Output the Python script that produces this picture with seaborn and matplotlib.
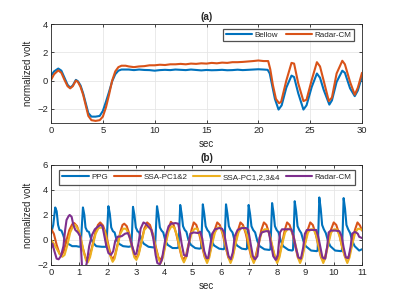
import numpy as np
import pandas as pd
import seaborn as sns
import matplotlib
matplotlib.use("Agg")
import matplotlib.pyplot as plt

# ---------------- data: panel (a) ----------------
bellow_t = [0, 0.3, 0.7, 1.0, 1.3, 1.6, 1.85, 2.1, 2.4, 2.6, 2.85, 3.1, 3.35, 3.6, 3.9, 4.3, 4.7, 5.0,
            5.3, 5.6, 5.9, 6.2, 6.5, 6.8, 7.5, 8, 8.5, 9, 9.5, 10, 10.5, 11, 11.5, 12, 12.5, 13, 13.5,
            14, 14.5, 15, 15.5, 16, 16.5, 17, 17.5, 18, 18.5, 19, 19.5, 20, 20.5, 20.9, 21.1, 21.35,
            21.6, 21.95, 22.25, 22.7, 23.2, 23.45, 23.85, 24.35, 24.65, 25.15, 25.65, 25.95, 26.3,
            26.85, 27.1, 27.55, 28.1, 28.35, 28.85, 29.3, 29.6, 30]
bellow_v = [0.35, 0.65, 0.85, 0.7, 0.2, -0.3, -0.5, -0.35, 0.05, -0.05, -0.35, -0.9, -1.6, -2.3, -2.55,
            -2.55, -2.5, -2.15, -1.5, -0.8, -0.05, 0.45, 0.7, 0.78, 0.78, 0.74, 0.78, 0.75, 0.74, 0.7,
            0.74, 0.76, 0.74, 0.78, 0.76, 0.74, 0.78, 0.75, 0.72, 0.75, 0.73, 0.74, 0.76, 0.73, 0.74,
            0.77, 0.74, 0.76, 0.78, 0.8, 0.78, 0.76, 0.5, -0.4, -1.3, -2.05, -1.75, -0.5, 0.35, 0.25,
            -0.9, -2.05, -1.75, -0.45, 0.5, 0.2, -0.65, -1.7, -1.4, -0.1, 0.7, 0.55, -0.55, -1.1,
            -0.7, 0.3]

radar_a_t = [0, 0.3, 0.7, 1.0, 1.3, 1.6, 1.85, 2.1, 2.4, 2.6, 2.85, 3.1, 3.35, 3.6, 3.9, 4.3, 4.7, 5.0,
             5.3, 5.6, 5.9, 6.2, 6.5, 6.8, 7.2, 7.5, 8, 8.5, 9, 9.5, 10, 10.5, 11, 11.5, 12, 12.5, 13,
             13.5, 14, 14.5, 15, 15.5, 16, 16.5, 17, 17.5, 18, 18.5, 19, 19.5, 20, 20.5, 20.95, 21.15,
             21.4, 21.7, 22.0, 22.2, 22.7, 23.2, 23.45, 23.85, 24.35, 24.65, 25.15, 25.65, 25.95, 26.3,
             26.8, 27.1, 27.55, 28.1, 28.35, 28.85, 29.3, 29.6, 30]
radar_a_v = [0.05, 0.45, 0.72, 0.55, 0.05, -0.4, -0.55, -0.4, 0.0, -0.1, -0.45, -1.0, -1.75, -2.5, -2.8,
             -2.85, -2.8, -2.55, -1.9, -1.0, 0.0, 0.65, 0.95, 1.05, 1.05, 1.0, 0.95, 1.0, 1.02, 1.08,
             1.08, 1.12, 1.1, 1.15, 1.15, 1.18, 1.15, 1.2, 1.18, 1.22, 1.2, 1.25, 1.22, 1.27, 1.25, 1.3,
             1.3, 1.32, 1.35, 1.38, 1.42, 1.38, 1.38, 0.8, -0.3, -1.3, -1.6, -1.5, 0.0, 1.25, 1.2, -0.2,
             -1.45, -1.35, 0.05, 1.3, 1.0, 0.0, -1.45, -1.2, 0.5, 1.4, 1.15, -0.1, -1.0, -0.5, 0.55]

# ---------------- data: panel (b) ----------------
ppg_t = [0, 0.08, 0.15, 0.2, 0.25, 0.3, 0.37, 0.43, 0.5, 0.6, 0.75, 0.9, 1.0, 1.05, 1.09, 1.13, 1.18,
         1.22, 1.28, 1.34, 1.4, 1.48, 1.6, 1.8, 1.95, 1.99, 2.03, 2.08, 2.13, 2.19, 2.25, 2.32, 2.4,
         2.55, 2.75, 2.84, 2.87, 2.9, 2.95, 3.0, 3.06, 3.12, 3.2, 3.28, 3.45, 3.62, 3.68, 3.71, 3.75,
         3.8, 3.85, 3.91, 3.97, 4.05, 4.13, 4.3, 4.45, 4.51, 4.54, 4.57, 4.62, 4.67, 4.73, 4.79, 4.86,
         4.95, 5.1, 5.25, 5.31, 5.34, 5.37, 5.42, 5.47, 5.53, 5.6, 5.68, 5.77, 5.95, 6.1, 6.13, 6.16,
         6.19, 6.24, 6.29, 6.35, 6.42, 6.5, 6.58, 6.75, 6.9, 6.93, 6.96, 6.99, 7.04, 7.09, 7.15, 7.22,
         7.3, 7.38, 7.55, 7.72, 7.76, 7.79, 7.82, 7.87, 7.92, 7.98, 8.05, 8.13, 8.21, 8.4, 8.53, 8.56,
         8.59, 8.62, 8.67, 8.72, 8.78, 8.85, 8.93, 9.01, 9.2, 9.4, 9.43, 9.46, 9.49, 9.54, 9.59, 9.65,
         9.72, 9.8, 9.88, 10.05, 10.26, 10.29, 10.32, 10.35, 10.4, 10.45, 10.51, 10.58, 10.66, 10.74,
         10.9, 11.0]
ppg_v = [0.5, 1.2, 2.6, 2.3, 1.2, 0.8, 0.75, 0.4, -0.1, -0.3, -0.5, -0.5, -0.55, -0.5, 1.0, 2.6, 2.0,
         1.0, 0.7, 0.65, 0.2, -0.2, -0.5, -0.55, -0.55, 0.9, 2.7, 2.1, 1.0, 0.7, 0.6, 0.0, -0.3, -0.5,
         -0.55, -0.5, 0.8, 2.65, 2.0, 1.0, 0.7, 0.6, 0.0, -0.3, -0.55, -0.6, -0.55, 0.8, 2.7, 2.0, 1.0,
         0.75, 0.6, -0.1, -0.4, -0.65, -0.65, -0.6, 1.0, 2.8, 2.1, 1.1, 0.8, 0.65, 0.0, -0.4, -0.65,
         -0.7, -0.65, 1.0, 2.85, 2.1, 1.1, 0.8, 0.6, -0.1, -0.45, -0.7, -0.75, -0.7, 1.0, 2.85, 2.1,
         1.1, 0.8, 0.6, -0.1, -0.45, -0.7, -0.75, -0.7, 1.0, 2.8, 2.1, 1.1, 0.8, 0.6, -0.1, -0.5,
         -0.75, -0.8, -0.75, 1.0, 2.95, 2.2, 1.1, 0.8, 0.6, -0.1, -0.5, -0.8, -0.85, -0.8, 1.0, 3.1,
         2.3, 1.1, 0.8, 0.55, -0.1, -0.5, -0.85, -0.9, -0.85, 1.0, 3.4, 2.5, 1.2, 0.85, 0.55, -0.1,
         -0.5, -0.85, -0.9, -0.85, 1.0, 3.35, 2.5, 1.2, 0.85, 0.55, -0.1, -0.5, -0.85, -0.75]

ssa12_t = [0, 0.1, 0.2, 0.3, 0.37, 0.45, 0.55, 0.65, 0.75, 0.82, 0.92, 1.02, 1.12, 1.22, 1.29, 1.37,
           1.47, 1.57, 1.66, 1.74, 1.84, 1.94, 2.04, 2.12, 2.18, 2.26, 2.36, 2.46, 2.53, 2.59, 2.68,
           2.78, 2.88, 2.96, 3.02, 3.1, 3.2, 3.3, 3.4, 3.5, 3.6, 3.7, 3.8, 3.87, 3.95, 4.05, 4.15, 4.24,
           4.33, 4.43, 4.53, 4.62, 4.69, 4.77, 4.87, 4.97, 5.05, 5.14, 5.24, 5.34, 5.44, 5.51, 5.59,
           5.69, 5.79, 5.88, 5.97, 6.07, 6.17, 6.27, 6.34, 6.42, 6.52, 6.62, 6.7, 6.79, 6.89, 6.99,
           7.09, 7.16, 7.24, 7.34, 7.44, 7.53, 7.62, 7.72, 7.82, 7.92, 7.99, 8.07, 8.17, 8.27, 8.35,
           8.44, 8.54, 8.64, 8.73, 8.8, 8.88, 8.98, 9.08, 9.17, 9.26, 9.36, 9.46, 9.55, 9.62, 9.7, 9.8,
           9.9, 10.0, 10.09, 10.19, 10.29, 10.4, 10.47, 10.55, 10.65, 10.75, 10.84, 10.93, 11.0]
ssa12_v = [0.9, 0.5, -0.4, -1.1, -1.25, -0.9, 0.0, 0.8, 1.25, 1.35, 1.1, 0.4, -0.6, -1.4, -1.6, -1.3,
           -0.4, 0.6, 1.2, 1.4, 1.15, 0.5, -0.5, -1.3, -1.55, -1.25, -0.3, 0.7, 1.2, 1.3, 1.1, 0.4,
           -0.6, -1.3, -1.45, -1.1, -0.1, 0.9, 1.4, 1.2, 0.5, -0.5, -1.4, -1.6, -1.3, -0.3, 0.8, 1.45,
           1.25, 0.5, -0.5, -1.35, -1.55, -1.3, -0.3, 0.8, 1.4, 1.2, 0.5, -0.5, -1.4, -1.6, -1.3, -0.3,
           0.8, 1.4, 1.2, 0.5, -0.5, -1.4, -1.6, -1.3, -0.3, 0.8, 1.4, 1.2, 0.5, -0.5, -1.4, -1.6, -1.3,
           -0.3, 0.8, 1.4, 1.2, 0.5, -0.5, -1.4, -1.6, -1.3, -0.3, 0.8, 1.4, 1.2, 0.5, -0.5, -1.4, -1.6,
           -1.3, -0.3, 0.8, 1.4, 1.2, 0.5, -0.5, -1.4, -1.55, -1.3, -0.3, 0.8, 1.4, 1.2, 0.5, -0.5,
           -1.35, -1.5, -1.25, -0.3, 0.8, 1.4, 1.15, 0.75]

ssa1234_t = [0, 0.1, 0.2, 0.3, 0.4, 0.48, 0.58, 0.68, 0.78, 0.86, 0.95, 1.05, 1.15, 1.24, 1.3, 1.38,
             1.48, 1.58, 1.68, 1.8, 1.9, 2.0, 2.1, 2.18, 2.25, 2.35, 2.45, 2.55, 2.65, 2.75, 2.85, 2.95,
             3.02, 3.1, 3.2, 3.3, 3.42, 3.52, 3.62, 3.72, 3.82, 3.88, 3.96, 4.06, 4.16, 4.26, 4.36, 4.46,
             4.56, 4.64, 4.7, 4.78, 4.88, 4.98, 5.08, 5.18, 5.28, 5.38, 5.46, 5.52, 5.6, 5.7, 5.8, 5.9,
             6.0, 6.1, 6.2, 6.29, 6.35, 6.43, 6.53, 6.63, 6.73, 6.83, 6.93, 7.03, 7.11, 7.17, 7.25, 7.35,
             7.45, 7.55, 7.65, 7.75, 7.85, 7.94, 8.0, 8.08, 8.18, 8.28, 8.38, 8.48, 8.58, 8.68, 8.75,
             8.81, 8.89, 8.99, 9.09, 9.19, 9.29, 9.39, 9.49, 9.57, 9.63, 9.71, 9.81, 9.91, 10.01, 10.11,
             10.21, 10.31, 10.42, 10.48, 10.56, 10.66, 10.76, 10.86, 10.96, 11.0]
ssa1234_v = [0.0, -0.3, -0.7, -1.1, -1.35, -1.2, -0.4, 0.6, 1.1, 1.2, 0.9, 0.2, -0.9, -1.65, -1.8, -1.4,
             -0.4, 0.5, 0.95, 1.0, 0.7, -0.3, -1.3, -1.75, -1.5, -0.5, 0.5, 0.9, 0.9, 0.5, -0.5, -1.4,
             -1.6, -1.2, -0.2, 0.8, 1.1, 0.9, 0.2, -0.8, -1.6, -1.85, -1.4, -0.3, 0.7, 1.1, 1.0, 0.3, -0.7,
             -1.5, -1.8, -1.4, -0.3, 0.6, 0.9, 0.9, 0.3, -0.7, -1.5, -1.85, -1.4, -0.3, 0.6, 1.0, 1.0, 0.4,
             -0.7, -1.5, -1.85, -1.4, -0.3, 0.6, 1.0, 1.0, 0.4, -0.7, -1.5, -1.85, -1.4, -0.3, 0.6, 0.85,
             0.85, 0.3, -0.7, -1.5, -1.85, -1.4, -0.3, 0.6, 0.9, 0.85, 0.3, -0.7, -1.5, -1.85, -1.4,
             -0.3, 0.6, 0.85, 0.85, 0.3, -0.7, -1.5, -1.85, -1.4, -0.3, 0.6, 0.85, 0.85, 0.3, -0.7, -1.5,
             -1.85, -1.4, -0.3, 0.6, 0.9, 0.85, 0.8]

radar_b_t = [0, 0.05, 0.12, 0.2, 0.27, 0.35, 0.44, 0.5, 0.55, 0.62, 0.66, 0.73, 0.79, 0.86, 0.95, 1.03,
             1.07, 1.1, 1.2, 1.26, 1.35, 1.45, 1.55, 1.65, 1.75, 1.82, 1.88, 1.95, 2.03, 2.12, 2.2, 2.27,
             2.35, 2.5, 2.62, 2.72, 2.8, 2.87, 2.96, 3.02, 3.1, 3.17, 3.27, 3.35, 3.47, 3.55, 3.62, 3.7,
             3.76, 3.85, 3.92, 3.98, 4.07, 4.16, 4.25, 4.4, 4.5, 4.56, 4.62, 4.7, 4.8, 4.87, 4.93, 5.05,
             5.2, 5.28, 5.35, 5.42, 5.5, 5.56, 5.63, 5.7, 5.8, 5.95, 6.05, 6.12, 6.2, 6.28, 6.36, 6.43,
             6.5, 6.6, 6.75, 6.9, 6.98, 7.06, 7.14, 7.22, 7.3, 7.38, 7.45, 7.6, 7.7, 7.77, 7.86, 7.95,
             8.02, 8.1, 8.17, 8.35, 8.5, 8.58, 8.66, 8.75, 8.84, 8.92, 8.98, 9.05, 9.2, 9.38, 9.45, 9.52,
             9.6, 9.7, 9.77, 9.82, 9.9, 10.05, 10.2, 10.28, 10.35, 10.43, 10.52, 10.6, 10.65, 10.75,
             10.85, 10.9, 11.0]
radar_b_v = [-0.65, -0.3, -0.9, -1.5, -1.55, -1.3, -0.5, 0.8, 1.6, 1.9, 2.0, 1.85, 1.2, 0.8, 0.6, 0.3,
             -1.0, -2.3, -2.4, -1.9, -0.5, 0.4, 0.85, 1.05, 1.2, 1.1, 0.4, -0.4, -1.05, -1.2, -0.9, -0.1,
             0.25, 0.3, 0.5, 0.55, 0.1, -0.5, -1.15, -1.1, -0.2, 0.9, 1.4, 1.3, 1.0, 0.8, 0.1, -1.2,
             -1.85, -1.95, -1.6, -0.8, 0.4, 1.1, 1.3, 1.35, 1.3, 0.6, -0.3, -1.2, -1.3, -0.4, 0.5, 0.6,
             0.55, 0.65, 0.1, -0.9, -1.45, -1.45, -0.5, 0.5, 0.85, 0.95, 0.9, 0.6, -0.4, -1.3, -1.55,
             -1.0, 0.3, 0.8, 0.95, 0.95, 0.8, -0.3, -1.3, -1.55, -1.3, 0.2, 0.6, 0.7, 0.7, -0.2, -1.3,
             -1.6, -1.2, 0.6, 0.85, 0.85, 0.85, 0.3, -0.6, -1.4, -1.5, -0.6, 0.5, 0.8, 0.8, 0.8, 0.3,
             -0.5, -1.4, -1.5, -0.5, 0.6, 0.75, 0.75, 0.7, 0.3, -0.6, -1.4, -1.45, -0.5, 0.5, 0.65, 0.5,
             0.25, 0.15]

# ---------------- styling ----------------
sns.set_theme(style="whitegrid")
plt.rcParams.update({
    "font.family": ["Liberation Sans", "DejaVu Sans"],
    "axes.edgecolor": "#262626",
    "axes.linewidth": 0.6,
    "grid.color": "#e6e6e6",
    "grid.linewidth": 0.6,
    "xtick.direction": "in",
    "ytick.direction": "in",
    "xtick.color": "#262626",
    "ytick.color": "#262626",
    "xtick.labelsize": 6.8,
    "ytick.labelsize": 6.8,
    "xtick.major.size": 2.5,
    "ytick.major.size": 2.5,
    "xtick.major.width": 0.6,
    "ytick.major.width": 0.6,
    "xtick.top": True,
    "ytick.right": True,
    "xtick.bottom": True,
    "ytick.left": True,
})

C_BLUE = "#0072BD"
C_ORANGE = "#D95319"
C_YELLOW = "#EDB120"
C_PURPLE = "#7E2F8E"

fig = plt.figure(figsize=(4, 3), dpi=100)
ax1 = fig.add_axes([0.1275, 0.59, 0.7775, 0.33])
ax2 = fig.add_axes([0.1275, 0.117, 0.7775, 0.333])

lw = 1.5
sns.lineplot(x=bellow_t, y=bellow_v, ax=ax1, color=C_BLUE, lw=lw, label="Bellow", estimator=None)
sns.lineplot(x=radar_a_t, y=radar_a_v, ax=ax1, color=C_ORANGE, lw=lw, label="Radar-CM", estimator=None)

sns.lineplot(x=ppg_t, y=ppg_v, ax=ax2, color=C_BLUE, lw=lw, label="PPG", estimator=None)
sns.lineplot(x=ssa12_t, y=ssa12_v, ax=ax2, color=C_ORANGE, lw=lw, label="SSA-PC1&2", estimator=None)
sns.lineplot(x=ssa1234_t, y=ssa1234_v, ax=ax2, color=C_YELLOW, lw=lw, label="SSA-PC1,2,3&4", estimator=None)
sns.lineplot(x=radar_b_t, y=radar_b_v, ax=ax2, color=C_PURPLE, lw=lw, label="Radar-CM", estimator=None)

ax1.set_xlim(0, 30)
ax1.set_ylim(-3, 4)
ax1.set_xticks([0, 5, 10, 15, 20, 25, 30])
ax1.set_yticks([-2, 0, 2, 4])
ax1.set_title("(a)", fontsize=7.2, fontweight="bold", pad=3)

ax2.set_xlim(0, 11)
ax2.set_ylim(-2, 6)
ax2.set_xticks(range(0, 12))
ax2.set_yticks([-2, 0, 2, 4, 6])
ax2.set_title("(b)", fontsize=7.2, fontweight="bold", pad=3)

for ax in (ax1, ax2):
    ax.set_xlabel("sec", fontsize=7, color="#262626", labelpad=3)
    ax.set_ylabel("normalized volt", fontsize=7, color="#262626", labelpad=3)
    ax.tick_params(pad=2)
    for s in ax.spines.values():
        s.set_color("#262626")
        s.set_linewidth(0.6)
    ax.grid(True)

leg1 = ax1.legend(loc="upper right", bbox_to_anchor=(0.974, 0.95), ncol=2, fontsize=5.8,
                  handlelength=3.3, columnspacing=0.9, handletextpad=0.3, borderpad=0.3,
                  fancybox=False, frameon=True, borderaxespad=0)
leg1.get_frame().set_edgecolor("#262626")
leg1.get_frame().set_linewidth(0.9)

leg2 = ax2.legend(loc="upper center", bbox_to_anchor=(0.5016, 0.953), ncol=4, fontsize=5.8,
                  handlelength=3.3, columnspacing=0.75, handletextpad=0.3, borderpad=0.45,
                  fancybox=False, frameon=True, borderaxespad=0)
leg2.get_frame().set_edgecolor("#262626")
leg2.get_frame().set_linewidth(0.9)

fig.savefig("out.png", dpi=100, facecolor="white")
